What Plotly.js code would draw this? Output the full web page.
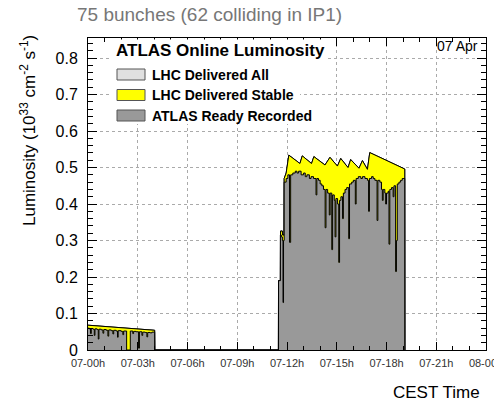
<!DOCTYPE html>
<html>
<head>
<meta charset="utf-8">
<script src="https://cdn.plot.ly/plotly-3.0.1.min.js"></script>
<style>html,body{margin:0;padding:0;background:#fff;}#chart{width:494px;height:406px;}</style>
</head>
<body>
<div id="chart"></div>
<script>
// ---- data (hours since 07 Apr 00:00 CEST, luminosity in 1e33 cm^-2 s^-1) ----
const tickHours = [0, 3, 6, 9, 12, 15, 18, 21, 24];
const tickLabels = ["07-00h", "07-03h", "07-06h", "07-09h", "07-12h", "07-15h", "07-18h", "07-21h", "08-00h"];

// LHC delivered, stable beams (linear segments)
const stableT = [0.0, 1.0, 2.0, 3.0, 3.9, 4.02, 4.03,
  11.48, 11.49, 11.6, 11.61, 11.72, 11.73, 11.82, 11.83, 11.95, 12.11, 12.78, 12.92, 13.48, 13.62,
  14.29, 14.59, 15.04, 15.24, 15.68, 15.84, 16.34, 16.55, 16.85, 16.99, 19.1, 19.11];
const stableV = [0.068, 0.065, 0.062, 0.058, 0.055, 0.054, 0.0,
  0.0, 0.19, 0.19, 0.326, 0.326, 0.315, 0.315, 0.47, 0.485, 0.534, 0.511, 0.532, 0.511, 0.530,
  0.507, 0.528, 0.504, 0.525, 0.500, 0.522, 0.498, 0.519, 0.495, 0.541, 0.496, 0.0];

// LHC delivered, all (same as stable within drawing precision)
const allT = stableT.slice();
const allV = stableV.slice();

// ATLAS ready recorded (step histogram)
const recT = [0.00, 0.08, 0.15, 0.20, 0.30, 0.38, 0.42, 0.55, 0.62, 0.66, 0.80, 0.90, 0.95, 1.10, 1.20, 1.25,
  1.40, 1.50, 1.55, 1.70, 1.78, 1.82, 2.00, 2.10, 2.15, 2.33, 2.55, 2.70, 2.75, 2.90, 3.05, 3.10, 3.25, 3.30,
  3.45, 3.55, 3.60, 3.75, 3.85, 4.02,
  11.49, 11.60, 11.66, 11.72, 11.76, 11.79, 11.83, 11.95, 12.05, 12.15, 12.22, 12.35, 12.50, 12.60, 12.70,
  12.85, 13.00, 13.10, 13.20, 13.35, 13.45, 13.60, 13.75, 13.80, 13.90, 14.00, 14.10, 14.20, 14.30, 14.35,
  14.45, 14.55, 14.60, 14.70, 14.75, 14.85, 14.90, 14.95, 15.05, 15.12, 15.17, 15.25, 15.35, 15.40, 15.50,
  15.60, 15.72, 15.77, 15.90, 16.00, 16.12, 16.17, 16.30, 16.45, 16.55, 16.70, 16.85, 16.92, 16.97, 17.10,
  17.20, 17.30, 17.43, 17.48, 17.60, 17.70, 17.75, 17.80, 17.90, 17.95, 18.00, 18.10, 18.15, 18.20, 18.30,
  18.40, 18.45, 18.55, 18.60, 18.65, 18.75, 18.85, 18.95, 19.05, 19.10];
const recV = [0.060, 0.058, 0.045, 0.059, 0.057, 0.040, 0.058, 0.056, 0.030, 0.057, 0.055, 0.046, 0.056, 0.054, 0.038, 0.055,
  0.053, 0.044, 0.054, 0.052, 0.035, 0.053, 0.051, 0.042, 0.052, 0.0, 0.052, 0.045, 0.051, 0.050, 0.005, 0.050, 0.040, 0.049,
  0.048, 0.036, 0.048, 0.047, 0.049, 0.0,
  0.19, 0.315, 0.31, 0.30, 0.13, 0.30, 0.46, 0.47, 0.48, 0.295, 0.48, 0.485, 0.49, 0.485, 0.49,
  0.48, 0.485, 0.475, 0.48, 0.47, 0.475, 0.47, 0.425, 0.47, 0.465, 0.455, 0.45, 0.44, 0.335, 0.44,
  0.43, 0.37, 0.43, 0.275, 0.425, 0.41, 0.31, 0.415, 0.40, 0.24, 0.41, 0.42, 0.36, 0.43, 0.44,
  0.445, 0.305, 0.455, 0.46, 0.465, 0.40, 0.47, 0.475, 0.47, 0.475, 0.47, 0.465, 0.38, 0.47, 0.475,
  0.47, 0.465, 0.355, 0.465, 0.46, 0.44, 0.41, 0.44, 0.43, 0.40, 0.43, 0.435, 0.29, 0.44, 0.445,
  0.42, 0.45, 0.215, 0.30, 0.455, 0.46, 0.465, 0.47, 0.47, 0.0];

const seriesNames = ["LHC Delivered All", "LHC Delivered Stable", "ATLAS Ready Recorded"];
const seriesColors = ["#e0e0e0", "#ffff00", "#999999"];

// ---- layout helpers (pixel -> paper) ----
const L = 88, R = 486, T = 38, B = 350;
const px = x => (x - L) / (R - L);
const py = y => (B - y) / (B - T);

const traces = [
  {x: allT, y: allV, type: "scatter", mode: "lines", fill: "tozeroy", fillcolor: seriesColors[0],
   line: {color: "#000", width: 1}, name: seriesNames[0], hoverinfo: "skip"},
  {x: stableT, y: stableV, type: "scatter", mode: "lines", fill: "tozeroy", fillcolor: seriesColors[1],
   line: {color: "#000", width: 1}, name: seriesNames[1], hoverinfo: "skip"},
  {x: recT, y: recV, type: "scatter", mode: "lines", fill: "tozeroy", fillcolor: seriesColors[2],
   line: {color: "#000", width: 1, shape: "hv"}, name: seriesNames[2], hoverinfo: "skip"}
];

const font = "Liberation Sans, Arial, Helvetica, sans-serif";

const shapes = [
  {type: "rect", xref: "paper", yref: "paper", x0: px(110), x1: px(300), y0: py(124), y1: py(42),
   fillcolor: "#fff", line: {width: 0}, layer: "above"}
];
const boxRows = [74.5, 95, 115.5];
const annotations = [
  {text: "75 bunches (62 colliding in IP1)", xref: "paper", yref: "paper", x: px(75), y: py(14),
   xanchor: "left", yanchor: "middle", showarrow: false, font: {family: font, size: 19, color: "#777"}},
  {text: "<b>ATLAS Online Luminosity</b>", xref: "paper", yref: "paper", x: px(114), y: py(51),
   xanchor: "left", yanchor: "middle", showarrow: false, bgcolor: "#fff", borderpad: 1,
   font: {family: font, size: 17, color: "#000"}},
  {text: "07 Apr", xref: "paper", yref: "paper", x: px(480), y: py(46),
   xanchor: "right", yanchor: "middle", showarrow: false, font: {family: font, size: 14, color: "#000"}},
  {text: "CEST Time", xref: "paper", yref: "paper", x: px(482), y: py(392),
   xanchor: "right", yanchor: "middle", showarrow: false, font: {family: font, size: 17, color: "#000"}},
  {text: "Luminosity (10<sup>33</sup> cm<sup>-2</sup> s<sup>-1</sup>)", xref: "paper", yref: "paper",
   x: px(28), y: py(131), xanchor: "center", yanchor: "middle", textangle: -90, showarrow: false,
   font: {family: font, size: 17, color: "#000"}}
];
seriesNames.forEach((nm, i) => {
  const yc = boxRows[i];
  shapes.push({type: "rect", xref: "paper", yref: "paper", x0: px(117), x1: px(145), y0: py(yc + 5.5), y1: py(yc - 5.5),
    fillcolor: seriesColors[i], line: {color: "#555", width: 1}, layer: "above"});
  annotations.push({text: "<b>" + nm + "</b>", xref: "paper", yref: "paper", x: px(150), y: py(yc),
    xanchor: "left", yanchor: "middle", showarrow: false, font: {family: font, size: 14, color: "#000"}});
});

const layout = {
  width: 494, height: 406,
  margin: {l: L, r: 494 - R, t: T, b: 406 - B, pad: 0},
  paper_bgcolor: "#fff", plot_bgcolor: "#fff",
  showlegend: false,
  font: {family: font, color: "#000"},
  xaxis: {
    range: [0, 24], tickmode: "array", tickvals: tickHours, ticktext: tickLabels,
    ticks: "inside", ticklen: 8, tickcolor: "#000", tickwidth: 1,
    showline: true, linecolor: "#000", linewidth: 1, mirror: "ticks",
    showgrid: true, gridcolor: "#aaa", griddash: "dot", gridwidth: 1, zeroline: false,
    tickfont: {family: font, size: 11, color: "#333"}, ticklabelstandoff: 3,
    ticklabeloverflow: "allow",
    minor: {dtick: 1, tick0: 0, ticks: "inside", ticklen: 4, tickcolor: "#000", showgrid: false}
  },
  yaxis: {
    range: [0, 0.855], tickmode: "linear", tick0: 0, dtick: 0.1,
    ticks: "inside", ticklen: 9, tickcolor: "#000", tickwidth: 1,
    showline: true, linecolor: "#000", linewidth: 1, mirror: "ticks",
    showgrid: true, gridcolor: "#aaa", griddash: "dot", gridwidth: 1, zeroline: false,
    tickfont: {family: font, size: 16, color: "#000"}, ticklabelstandoff: 6,
    minor: {dtick: 0.02, tick0: 0, ticks: "inside", ticklen: 5, tickcolor: "#000", showgrid: false}
  },
  shapes: shapes,
  annotations: annotations
};

Plotly.newPlot("chart", traces, layout, {staticPlot: true, displayModeBar: false});
</script>
</body>
</html>
